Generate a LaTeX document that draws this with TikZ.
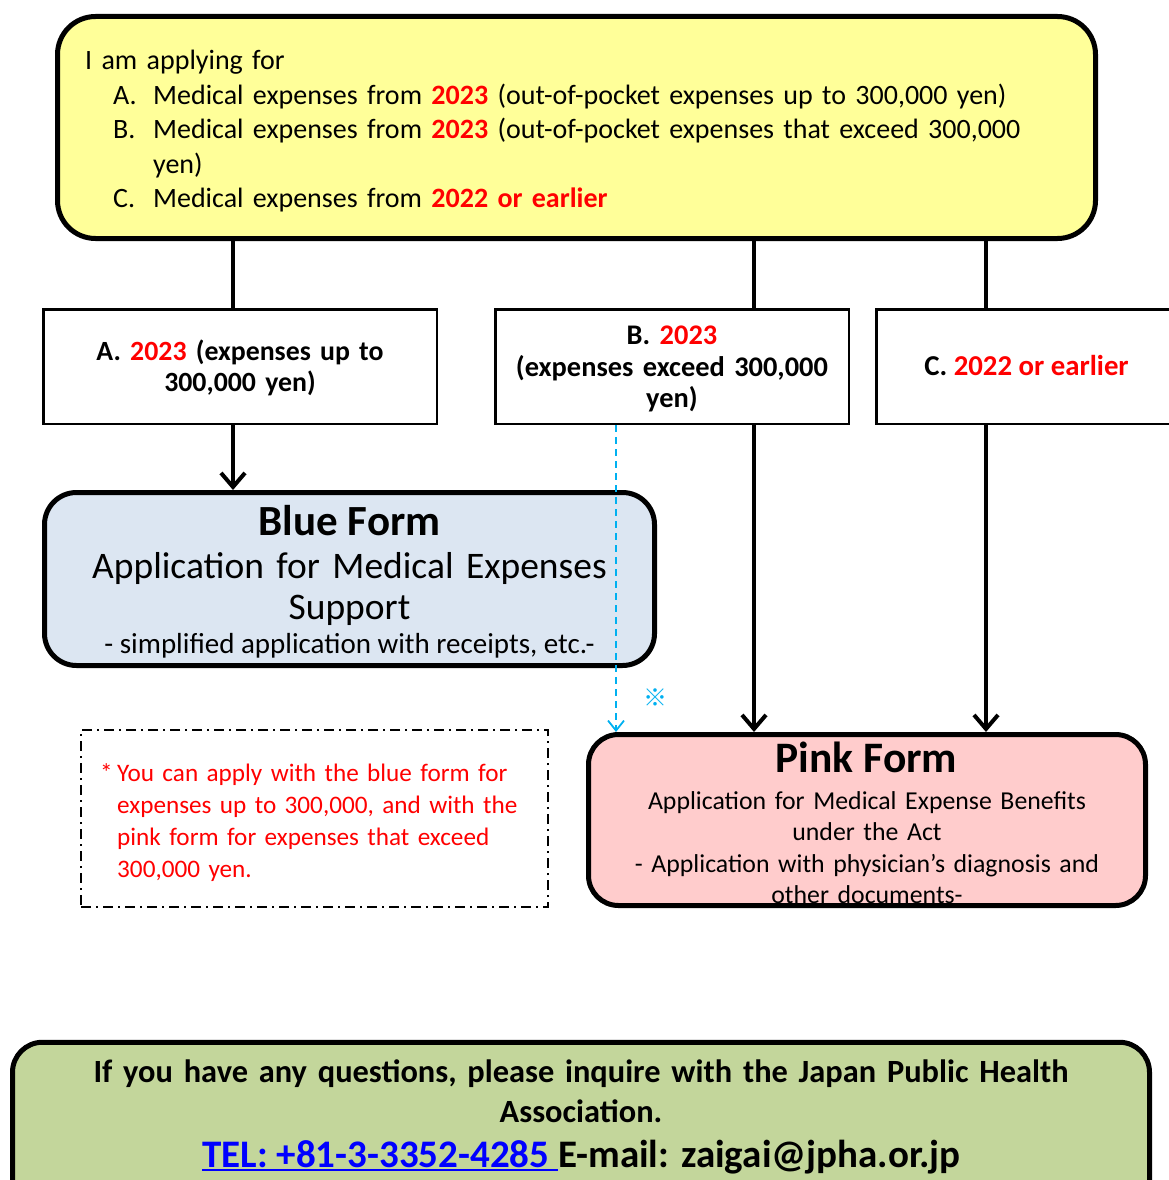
\documentclass[tikz,border=0pt]{standalone}
\usepackage{fontspec}
\setmainfont{Carlito}
\newfontfamily\cjkfont{Noto Sans CJK JP}
\usetikzlibrary{arrows.meta}
\definecolor{yfill}{HTML}{FFFF99}
\definecolor{bfill}{HTML}{DCE6F2}
\definecolor{pfill}{HTML}{FFCCCC}
\definecolor{gfill}{HTML}{C3D69B}
\definecolor{accent}{HTML}{FF0000}
\definecolor{cyanline}{HTML}{00B0F0}
\definecolor{linkblue}{HTML}{0000FF}
\newcommand\hl[1]{\textcolor{accent}{\bfseries #1}}
\newsavebox\ulbox
\newcommand\myul[1]{\sbox\ulbox{#1}\rlap{\rule[-4pt]{\wd\ulbox}{2pt}}\usebox\ulbox}
\begin{document}
\begin{tikzpicture}[x=1pt,y=-1pt,
  roundbox/.style={draw, line width=5pt, inner sep=0pt},
  thinbox/.style={draw, line width=2.5pt, inner sep=0pt},
  conn/.style={line width=4pt},
  arr/.style={conn, -{Straight Barb[length=14pt,width=24pt,line width=4pt]}},
  dasharr/.style={cyanline, line width=1.8pt, dash pattern=on 7pt off 5pt, -{Straight Barb[length=10pt,width=16pt,line width=1.8pt]}},
  txt/.style={inner sep=0pt}
]
\useasboundingbox (0,0) rectangle (1168,1180);
\fill[white] (0,0) rectangle (1168,1180);

% top box
\node[roundbox, fill=yfill, rounded corners=38pt, minimum width=1038pt, minimum height=222pt] (ask) at (576.5,127.5) {};
\node[txt, anchor=base west, text width=1000pt, align=left, font=\fontsize{28}{34.6}\selectfont] (asktext) at (85,69.5)
{I am applying for\\
\hspace*{28pt}\makebox[40pt][l]{A.}Medical expenses from \hl{2023} (out-of-pocket expenses up to 300,000 yen)\\
\hspace*{28pt}\makebox[40pt][l]{B.}Medical expenses from \hl{2023} (out-of-pocket expenses that exceed 300,000\\
\hspace*{68pt}yen)\\
\hspace*{28pt}\makebox[40pt][l]{C.}Medical expenses from \hl{2022 or earlier}};

% category boxes
\node[thinbox, minimum width=393.5pt, minimum height=114.5pt] (boxA) at (240,366.5) {};
\node[thinbox, minimum width=353.5pt, minimum height=114.5pt] (boxB) at (672,366.5) {};
\node[thinbox, minimum width=299.5pt, minimum height=114.5pt] (boxC) at (1026,366.5) {};
\node[txt, anchor=base, text width=390pt, align=center, font=\bfseries\fontsize{27.8}{31}\selectfont] (textA) at (240,360.5)
{A. \textcolor{accent}{2023} (expenses up to\\300,000 yen)};
\node[txt, anchor=base, text width=350pt, align=center, font=\bfseries\fontsize{28.4}{31.5}\selectfont] (textB) at (672,344.5)
{B. \textcolor{accent}{2023}\\(expenses exceed 300,000\\yen)};
\node[txt, anchor=base, font=\bfseries\fontsize{28.8}{31}\selectfont] (textC) at (1026.5,375.5)
{C. \textcolor{accent}{2022 or earlier}};

\coordinate (xa) at (233,0);
\coordinate (xb) at (754,0);
\coordinate (xc) at (986,0);
\coordinate (xd) at (616,0);

\draw[conn] (ask.south -| xa) -- (boxA.north -| xa);
\draw[conn] (ask.south -| xb) -- (boxB.north -| xb);
\draw[conn] (ask.south -| xc) -- (boxC.north -| xc);

% blue form
\node[roundbox, fill=bfill, rounded corners=32pt, minimum width=610pt, minimum height=173pt] (blue) at (349.5,579) {};
\node[txt, anchor=base, font=\bfseries\fontsize{43}{46}\selectfont] (blueT) at (349.5,535) {Blue Form};
\node[txt, anchor=base, text width=600pt, align=center, font=\fontsize{37.5}{41}\selectfont] (blueS) at (349.5,578)
{Application for Medical Expenses\\Support};
\node[txt, anchor=base, font=\fontsize{29}{32}\selectfont] (blueN) at (349.5,653) {- simplified application with receipts, etc.-};

% pink form
\node[roundbox, fill=pfill, rounded corners=30pt, minimum width=557pt, minimum height=171pt] (pink) at (867,820) {};
\node[txt, anchor=base, font=\bfseries\fontsize{43.5}{46}\selectfont] (pinkT) at (866.5,772) {Pink Form};
\node[txt, anchor=base, text width=550pt, align=center, font=\fontsize{25.8}{31.5}\selectfont] (pinkS) at (867,809)
{Application for Medical Expense Benefits\\under the Act\\- Application with physician’s diagnosis and\\other documents-};

% arrows
\draw[arr] (boxA.south -| xa) -- (blue.north -| xa);
\draw[arr] (boxB.south -| xb) -- (pink.north -| xb);
\draw[arr] (boxC.south -| xc) -- (pink.north -| xc);
\draw[dasharr] (boxB.south -| xd) -- (pink.north -| xd);
\node[txt, text=cyanline, font=\cjkfont\fontsize{24}{26}\selectfont] (mark) at (655,698) {※};

% note
\node[draw, line width=2.2pt, dash pattern=on 10pt off 5pt on 2pt off 5pt, minimum width=467pt, minimum height=177pt, inner sep=0pt] (note) at (314.5,818.5) {};
\node[txt, anchor=base west, text width=440pt, align=left, text=accent, font=\fontsize{25.2}{32}\selectfont] (noteT) at (100,781)
{\makebox[17pt][l]{*}You can apply with the blue form for\\
\hspace*{17pt}expenses up to 300,000, and with the\\
\hspace*{17pt}pink form for expenses that exceed\\
\hspace*{17pt}300,000 yen.};

% contact
\node[roundbox, fill=gfill, rounded corners=30pt, minimum width=1137pt, minimum height=187.5pt] (contactbox) at (581,1136) {};
\node[txt, anchor=base, text width=1120pt, align=center, font=\bfseries\fontsize{32.4}{40}\selectfont] (question) at (581,1082)
{If you have any questions, please inquire with the Japan Public Health\\Association.};
\node[txt, anchor=base, font=\bfseries\fontsize{39}{42}\selectfont] (contact) at (581.5,1167)
{\textcolor{linkblue}{\myul{TEL: +81-3-3352-4285\ }}E-mail: zaigai@jpha.or.jp};
\end{tikzpicture}
\end{document}
